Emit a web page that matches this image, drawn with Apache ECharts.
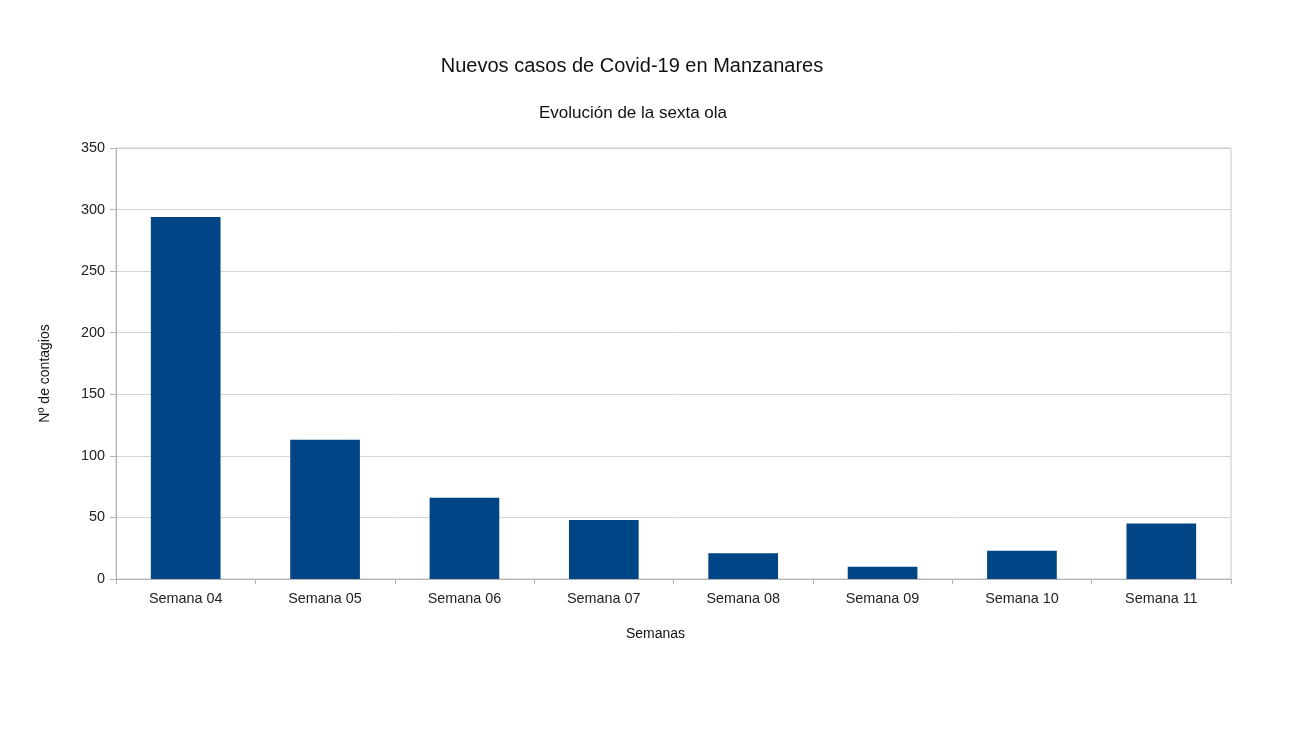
<!DOCTYPE html>
<html>
<head>
<meta charset="utf-8">
<script src="https://cdn.jsdelivr.net/npm/echarts@6/dist/echarts.min.js"></script>
<style>html,body{margin:0;padding:0;background:#fff;}#c{width:1306px;height:733px;}</style>
</head>
<body>
<div id="c"></div>
<script>
var categories = ["Semana 04","Semana 05","Semana 06","Semana 07","Semana 08","Semana 09","Semana 10","Semana 11"];
var casos = [294, 113, 66, 48, 21, 10, 23, 45];
var yTicks = [0, 50, 100, 150, 200, 250, 300, 350];

var chart = echarts.init(document.getElementById('c'));
var font = 'Liberation Sans, Arial, sans-serif';
chart.setOption({
  backgroundColor: '#fff',
  animation: false,
  textStyle: {fontFamily: font},
  title: [
    {text: 'Nuevos casos de Covid-19 en Manzanares', left: 627, top: 51, textAlign: 'center',
     textStyle: {fontFamily: font, fontSize: 20, fontWeight: 'normal', color: '#111'}},
    {text: 'Evolución de la sexta ola', left: 628, top: 100, textAlign: 'center',
     textStyle: {fontFamily: font, fontSize: 17, fontWeight: 'normal', color: '#111'}}
  ],
  grid: {left: 116, right: 75, top: 148, bottom: 154, show: true, borderColor: '#c8c8c8', borderWidth: 1},
  xAxis: {
    type: 'category',
    data: categories,
    name: 'Semanas',
    nameLocation: 'middle',
    nameGap: 48,
    nameTextStyle: {fontFamily: font, fontSize: 14, color: '#111', padding: [0, 36, 0, 0]},
    axisLine: {lineStyle: {color: '#b3b3b3'}},
    axisTick: {show: true, length: 5, lineStyle: {color: '#b3b3b3'}},
    axisLabel: {fontFamily: font, fontSize: 14.4, color: '#222', margin: 13}
  },
  yAxis: {
    type: 'value',
    min: 0, max: 350, interval: 50,
    name: 'Nº de contagios',
    nameLocation: 'middle',
    nameGap: 64,
    nameRotate: 90,
    nameTextStyle: {fontFamily: font, fontSize: 14, color: '#111', padding: [0, 20, 0, 0]},
    axisLine: {show: true, lineStyle: {color: '#b3b3b3'}},
    axisTick: {show: true, length: 6, lineStyle: {color: '#b3b3b3'}},
    axisLabel: {fontFamily: font, fontSize: 14.4, color: '#222', margin: 11,
      formatter: function(v){ return yTicks.indexOf(v) >= 0 ? String(v) : ''; }},
    splitLine: {lineStyle: {color: '#d4d4d4'}}
  },
  series: [{
    type: 'bar',
    data: casos,
    barCategoryGap: '50%',
    itemStyle: {color: '#004586'}
  }]
});
</script>
</body>
</html>
